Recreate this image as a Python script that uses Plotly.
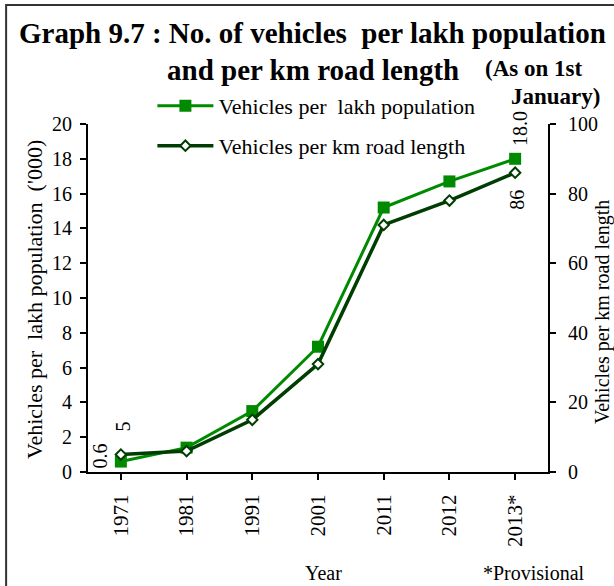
import plotly.graph_objects as go

# Data
years = ["1971", "1981", "1991", "2001", "2011", "2012", "2013*"]
per_lakh_pop = [0.6, 1.4, 3.5, 7.2, 15.2, 16.7, 18.0]      # '000 vehicles per lakh population
per_km_road = [5, 6, 15, 31, 71, 78, 86]                   # vehicles per km road length
left_ticks = [0, 2, 4, 6, 8, 10, 12, 14, 16, 18, 20]
right_ticks = [0, 20, 40, 60, 80, 100]

SERIF = "Liberation Serif, Times New Roman, serif"
GREEN = "#008a00"
DARK = "#003d00"

fig = go.Figure()

fig.add_trace(go.Scatter(
    x=years, y=per_lakh_pop, name="Vehicles per  lakh population",
    mode="lines+markers",
    line=dict(color=GREEN, width=3),
    marker=dict(symbol="square", size=12, color=GREEN),
    legend="legend",
))
fig.add_trace(go.Scatter(
    x=years, y=per_km_road, name="Vehicles per km road length",
    mode="lines+markers", yaxis="y2",
    line=dict(color=DARK, width=3.5),
    marker=dict(symbol="diamond", size=8, color="white",
                line=dict(color=DARK, width=2)),
    legend="legend2",
))

axis_common = dict(
    showgrid=False, zeroline=False, showline=True, linecolor="black", linewidth=2,
    ticks="outside", ticklen=6, tickwidth=2, tickcolor="black",
    tickfont=dict(family=SERIF, size=20, color="black"),
)

legend_common = dict(xanchor="left", yanchor="middle", itemwidth=56,
                     bgcolor="rgba(0,0,0,0)",
                     font=dict(family=SERIF, size=22, color="black"))

fig.update_layout(
    width=614, height=586,
    margin=dict(l=88, r=66, t=124, b=114),
    paper_bgcolor="white", plot_bgcolor="white",
    font=dict(family=SERIF, color="black"),
    showlegend=True,
    xaxis=dict(type="category", categoryorder="array", categoryarray=years,
               range=[-0.5, len(years) - 0.5], tickangle=-90,
               ticklabelstandoff=6, **{**axis_common,
                                       "tickfont": dict(family=SERIF, size=21, color="black")}),
    yaxis=dict(range=[0, 20], tickvals=left_ticks, ticklabelstandoff=4, **axis_common),
    yaxis2=dict(range=[0, 100], tickvals=right_ticks, overlaying="y", side="right",
                ticklabelstandoff=8, **axis_common),
    legend=dict(x=0.14, y=1.052, **legend_common),
    legend2=dict(x=0.14, y=0.937, **legend_common),
)

# Outer frame
fig.add_shape(type="rect", xref="paper", yref="paper",
              x0=-0.178, x1=1.17, y0=-0.37, y1=1.342,
              line=dict(color="#333333", width=2), layer="below")

def px_x(px):
    return (px - 88) / 460

def px_y(py):
    return (472 - py) / 348

annotations = [
    dict(text="<b>Graph 9.7 : No. of vehicles  per lakh population</b>",
         x=px_x(312), y=px_y(33), size=29),
    dict(text="<b>and per km road length</b>", x=px_x(313), y=px_y(70), size=29),
    dict(text="<b>(As on 1st</b>", x=px_x(533), y=px_y(68), size=23),
    dict(text="<b>January)</b>", x=px_x(555), y=px_y(97), size=23),
    dict(text="Vehicles per  lakh population  ('000)", x=px_x(34), y=px_y(300),
         textangle=-90, size=22),
    dict(text="Vehicles per km road length", x=px_x(602), y=px_y(312),
         textangle=-90, size=20),
    dict(text="Year", x=px_x(323), y=px_y(573), size=20),
    dict(text="*Provisional", x=px_x(534), y=px_y(573), size=20),
]
for a in annotations:
    size = a.pop("size")
    fig.add_annotation(xref="paper", yref="paper", showarrow=False,
                       xanchor="center", yanchor="middle",
                       font=dict(family=SERIF, color="black", size=size), **a)

# Value labels at the first and last points (x given as category index)
first, last = 0, len(years) - 1
label_font = dict(family=SERIF, size=20, color="black")
fig.add_annotation(x=first, y=per_lakh_pop[first], xref="x", yref="y",
                   text=f"{per_lakh_pop[first]:.1f}", textangle=-90, showarrow=False,
                   xshift=-21, yshift=6, font=label_font)
fig.add_annotation(x=first, y=per_km_road[first], xref="x", yref="y2",
                   text=f"{per_km_road[first]:g}", textangle=-90, showarrow=False,
                   xshift=2, yshift=28, font=label_font)
fig.add_annotation(x=last, y=per_lakh_pop[last], xref="x", yref="y",
                   text=f"{per_lakh_pop[last]:.1f}", textangle=-90, showarrow=False,
                   xshift=5, yshift=30, font=label_font)
fig.add_annotation(x=last, y=per_km_road[last], xref="x", yref="y2",
                   text=f"{per_km_road[last]:g}", textangle=-90, showarrow=False,
                   xshift=2, yshift=-27, font=label_font)

fig.write_html("out.html")
